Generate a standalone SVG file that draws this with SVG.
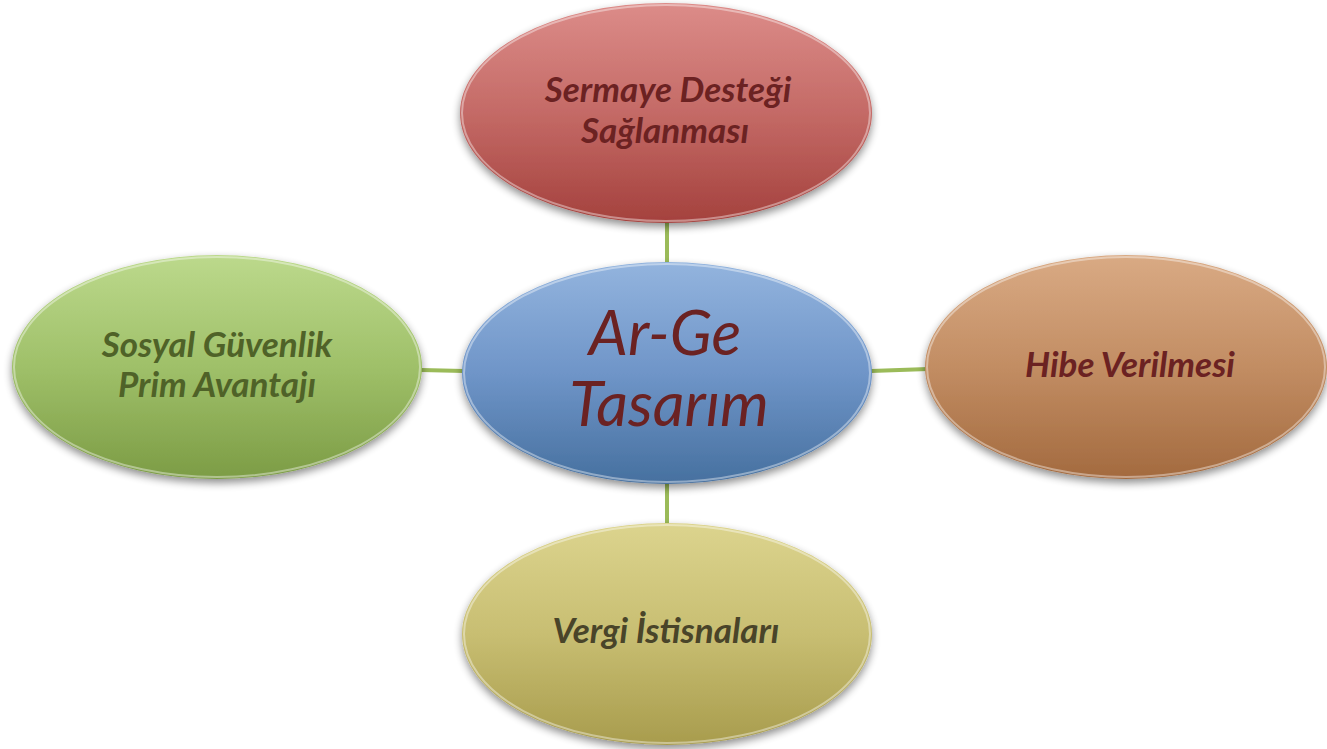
<svg xmlns="http://www.w3.org/2000/svg" width="1327" height="749" viewBox="0 0 1327 749">
<style>
  .lbl { font-family: Lato, "Open Sans", "Liberation Sans", sans-serif; font-style: italic; font-weight: bold; font-size: 35px; text-anchor: middle; }
  .main { font-family: Lato, "Open Sans", "Liberation Sans", sans-serif; font-style: italic; font-weight: normal; font-size: 62px; text-anchor: middle; fill: #6b2222; }
  .conn { stroke: #9bbb59; stroke-width: 4; fill: none; }
  .rim { fill: none; stroke: #ffffff; stroke-opacity: 0.4; stroke-width: 2; }
</style>
<defs>
  <filter id="sh" x="-10%" y="-10%" width="120%" height="130%">
    <feGaussianBlur in="SourceAlpha" stdDeviation="4"/>
    <feOffset dx="0" dy="4" result="b"/>
    <feComponentTransfer><feFuncA type="linear" slope="0.45"/></feComponentTransfer>
    <feMerge><feMergeNode/><feMergeNode in="SourceGraphic"/></feMerge>
  </filter>
  <linearGradient id="gRed" x1="0" y1="0" x2="0" y2="1">
    <stop offset="0" stop-color="#dc8c89"/><stop offset="0.5" stop-color="#c46a66"/><stop offset="1" stop-color="#a4413d"/>
  </linearGradient>
  <linearGradient id="gBlue" x1="0" y1="0" x2="0" y2="1">
    <stop offset="0" stop-color="#93b4de"/><stop offset="0.5" stop-color="#6f95c8"/><stop offset="1" stop-color="#46709f"/>
  </linearGradient>
  <linearGradient id="gGreen" x1="0" y1="0" x2="0" y2="1">
    <stop offset="0" stop-color="#bcd98c"/><stop offset="0.5" stop-color="#9fc069"/><stop offset="1" stop-color="#7c9c45"/>
  </linearGradient>
  <linearGradient id="gOrange" x1="0" y1="0" x2="0" y2="1">
    <stop offset="0" stop-color="#d9aa84"/><stop offset="0.5" stop-color="#c28d63"/><stop offset="1" stop-color="#a36a3f"/>
  </linearGradient>
  <linearGradient id="gOlive" x1="0" y1="0" x2="0" y2="1">
    <stop offset="0" stop-color="#dcd48e"/><stop offset="0.5" stop-color="#c8be72"/><stop offset="1" stop-color="#a89c4d"/>
  </linearGradient>
</defs>
<g id="connectors">
  <line class="conn" x1="667" y1="222" x2="667" y2="264"/>
  <line class="conn" x1="421" y1="370" x2="464" y2="371"/>
  <line class="conn" x1="871" y1="371" x2="928" y2="369"/>
  <line class="conn" x1="667" y1="482" x2="667" y2="525"/>
</g>
<g id="node-top">
  <ellipse cx="666" cy="113" rx="206" ry="110" fill="url(#gRed)" filter="url(#sh)"/>
  <ellipse class="rim" cx="666" cy="113" rx="204" ry="108"/>
  <text class="lbl" fill="#6b2222"><tspan x="668" y="102">Sermaye Desteği</tspan><tspan x="665" y="143">Sağlanması</tspan></text>
</g>
<g id="node-center">
  <ellipse cx="667" cy="373" rx="205" ry="111" fill="url(#gBlue)" filter="url(#sh)"/>
  <ellipse class="rim" cx="667" cy="373" rx="203" ry="109"/>
  <text class="main"><tspan x="665" y="355">Ar-Ge</tspan><tspan x="669" y="426">Tasarım</tspan></text>
</g>
<g id="node-left">
  <ellipse cx="217" cy="367" rx="205" ry="112" fill="url(#gGreen)" filter="url(#sh)"/>
  <ellipse class="rim" cx="217" cy="367" rx="203" ry="110"/>
  <text class="lbl" fill="#4f6228"><tspan x="217" y="357">Sosyal Güvenlik</tspan><tspan x="217" y="397">Prim Avantajı</tspan></text>
</g>
<g id="node-right">
  <ellipse cx="1126" cy="367" rx="201" ry="112" fill="url(#gOrange)" filter="url(#sh)"/>
  <ellipse class="rim" cx="1126" cy="367" rx="199" ry="110"/>
  <text class="lbl" fill="#6b2222" x="1130" y="377">Hibe Verilmesi</text>
</g>
<g id="node-bottom">
  <ellipse cx="667" cy="634" rx="205" ry="111" fill="url(#gOlive)" filter="url(#sh)"/>
  <ellipse class="rim" cx="667" cy="634" rx="203" ry="109"/>
  <text class="lbl" fill="#494429" x="666" y="643">Vergi İstisnaları</text>
</g>
</svg>
